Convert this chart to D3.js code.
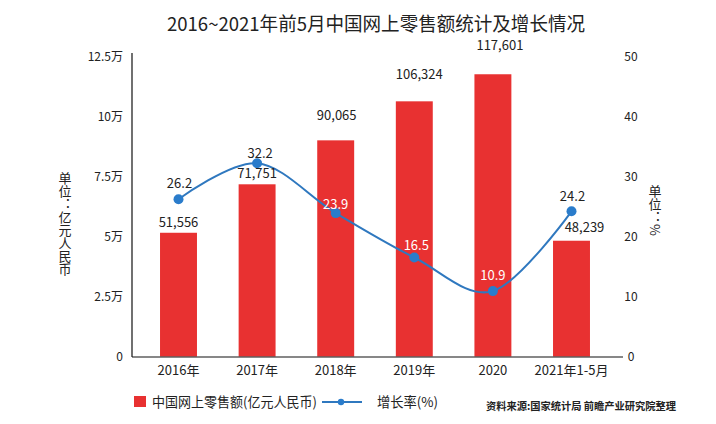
<!DOCTYPE html>
<html><head><meta charset="utf-8">
<script src="https://cdn.jsdelivr.net/npm/d3@7"></script>
<style>
html,body{margin:0;padding:0;background:#fff;}
svg{display:block;font-family:"Noto Sans CJK SC","Noto Sans",sans-serif;}
</style></head>
<body><svg id="c" width="716" height="424"></svg>
<script>
const categories = ["2016年","2017年","2018年","2019年","2020","2021年1-5月"];
const sales = [51556, 71751, 90065, 106324, 117601, 48239];
const growth = [26.2, 32.2, 23.9, 16.5, 10.9, 24.2];
const leftTicks = [0, 25000, 50000, 75000, 100000, 125000];
const leftTickLabels = ["0","2.5万","5万","7.5万","10万","12.5万"];
const rightTicks = [0, 10, 20, 30, 40, 50];

// layout nudges for labels (not data)
const barLabelNudge = [[0,-10],[0,-11],[1,-25],[5,-27],[7,-29],[13,-13]];
const lineLabelNudge = [[1,-16],[3,-10],[0,-9],[2,-12.5],[0,-15.5],[1,-14.5]];
const lineLabelWhite = [false,false,true,true,true,false];

const svg = d3.select("#c");
const RED = "#e83131", BLUE = "#2f78bf", DOT = "#2a7ccb";

const x = d3.scaleBand().domain(categories).range([139.2, 610.8]).paddingInner(0.53).paddingOuter(0.265);
const yL = d3.scaleLinear().domain([0,125000]).range([356.5,56.5]);
const yR = d3.scaleLinear().domain([0,50]).range([356.5,56.5]);

// title
svg.append("text").attr("x",376).attr("y",31).attr("text-anchor","middle")
  .attr("font-size",19).attr("fill","#222")
  .attr("textLength",418).attr("lengthAdjust","spacingAndGlyphs")
  .text("2016~2021年前5月中国网上零售额统计及增长情况");

// bars
svg.append("g").selectAll("rect").data(sales).join("rect")
  .attr("x",(d,i)=>x(categories[i])).attr("width",x.bandwidth())
  .attr("y",d=>yL(d)).attr("height",d=>yL(0)-yL(d)).attr("fill",RED);

// axes
const axL = d3.axisLeft(yL).tickValues(leftTicks).tickFormat((d,i)=>leftTickLabels[i]).tickSize(0).tickPadding(9);
const gL = svg.append("g").attr("transform","translate(132,0)").call(axL);
gL.select(".domain").attr("d","M0,53V357").attr("stroke","#111").attr("stroke-width",1.2);
gL.selectAll("text").attr("font-size",12).attr("fill","#222").attr("font-family","Noto Sans CJK SC");

const axR = d3.axisRight(yR).tickValues(rightTicks).tickSize(0).tickPadding(0);
const gR = svg.append("g").attr("transform","translate(631,0)").call(axR);
gR.select(".domain").remove();
gR.selectAll("text").attr("font-size",12).attr("fill","#222").attr("text-anchor","middle").attr("font-family","Noto Sans CJK SC");

const axB = d3.axisBottom(x).tickSize(0).tickPadding(9);
const gB = svg.append("g").attr("transform","translate(0,357)").call(axB);
gB.select(".domain").attr("d","M132,0H623").attr("stroke","#111").attr("stroke-width",1.2);
gB.selectAll("text").attr("font-size",13).attr("fill","#222").attr("font-family","Noto Sans CJK SC");

// axis titles (vertical)
svg.append("text").attr("x",65).attr("y",172).attr("font-size",13).attr("fill","#222")
  .style("writing-mode","vertical-rl").style("text-orientation","mixed")
  .text("单位：亿元人民币");
svg.append("text").attr("x",655).attr("y",185).attr("font-size",13).attr("fill","#222")
  .style("writing-mode","vertical-rl").style("text-orientation","mixed")
  .text("单位：%");

// line
const cx = (i)=>x(categories[i]) + x.bandwidth()/2;
const line = d3.line().x((d,i)=>cx(i)).y(d=>yR(d)).curve(d3.curveCardinal.tension(0));
svg.append("path").datum(growth).attr("d",line).attr("fill","none").attr("stroke",BLUE).attr("stroke-width",2);
svg.append("g").selectAll("circle").data(growth).join("circle")
  .attr("cx",(d,i)=>cx(i)).attr("cy",d=>yR(d)).attr("r",5).attr("fill",DOT);

// bar labels
svg.append("g").selectAll("text").data(sales).join("text")
  .attr("x",(d,i)=>cx(i)+barLabelNudge[i][0]).attr("y",(d,i)=>yL(d)+barLabelNudge[i][1])
  .attr("dy","0.35em").attr("text-anchor","middle").attr("font-size",13).attr("fill","#222")
  .text(d=>d3.format(",")(d));

// line labels
svg.append("g").selectAll("text").data(growth).join("text")
  .attr("x",(d,i)=>cx(i)+lineLabelNudge[i][0]).attr("y",(d,i)=>yR(d)+lineLabelNudge[i][1])
  .attr("dy","0.35em").attr("text-anchor","middle").attr("font-size",13)
  .attr("fill",(d,i)=>lineLabelWhite[i]?"#fff":"#222")
  .text(d=>d3.format(".1f")(d));

// legend
const lg = svg.append("g");
lg.append("rect").attr("x",134).attr("y",396).attr("width",12).attr("height",11).attr("fill",RED);
lg.append("text").attr("x",152).attr("y",402).attr("dy","0.35em").attr("font-size",13.5).attr("fill","#222")
  .attr("textLength",165).attr("lengthAdjust","spacingAndGlyphs")
  .text("中国网上零售额(亿元人民币)");
lg.append("line").attr("x1",322).attr("x2",362).attr("y1",402).attr("y2",402).attr("stroke",BLUE).attr("stroke-width",2);
lg.append("circle").attr("cx",341).attr("cy",402).attr("r",3.2).attr("fill",DOT);
lg.append("text").attr("x",377).attr("y",402).attr("dy","0.35em").attr("font-size",13.5).attr("fill","#222")
  .attr("textLength",61).attr("lengthAdjust","spacingAndGlyphs")
  .text("增长率(%)");
lg.append("text").attr("x",486).attr("y",406).attr("dy","0.35em").attr("font-size",10.5).attr("font-weight","bold").attr("fill","#222")
  .attr("textLength",190).attr("lengthAdjust","spacingAndGlyphs")
  .text("资料来源:国家统计局 前瞻产业研究院整理");
</script></body></html>
